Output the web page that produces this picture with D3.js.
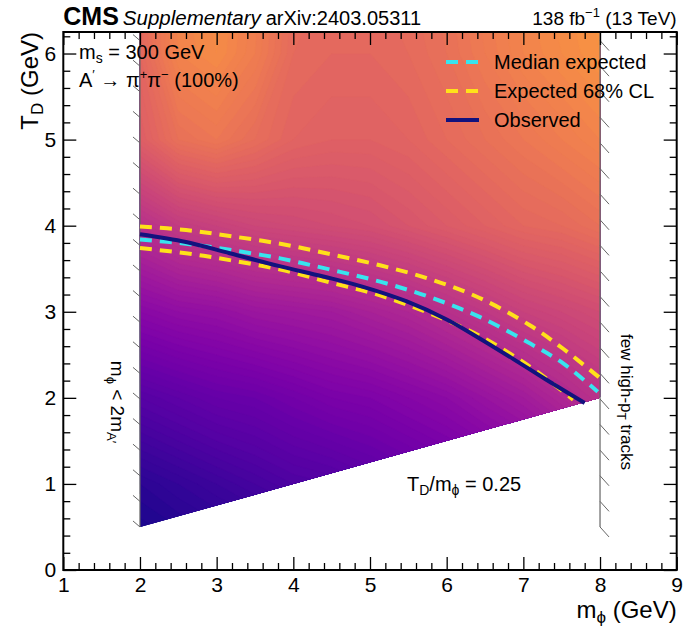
<!DOCTYPE html>
<html>
<head>
<meta charset="utf-8">
<script src="https://cdn.jsdelivr.net/npm/d3@7"></script>
<style>
  body { margin: 0; background: #fff; }
  text { font-family: "Liberation Sans", Arial, Helvetica, sans-serif; fill: #000; }
</style>
</head>
<body>
<svg id="chart" width="684" height="634"></svg>
<script>
// ---- data -------------------------------------------------------------
// Colour level (0..1 on the plasma scale) sampled on a regular m_phi x T_D grid
const massGrid = [2, 2.5, 3, 3.5, 4, 4.5, 5, 5.5, 6, 6.5, 7, 7.5, 8];
const tempGrid = [0, 1, 2, 3, 4, 5, 6, 7];
const levelRows = [
  [0.00, 0.01, 0.02, 0.03, 0.04, 0.05, 0.06, 0.07, 0.08, 0.09, 0.10, 0.11, 0.12],
  [0.05, 0.07, 0.09, 0.11, 0.13, 0.14, 0.16, 0.18, 0.20, 0.22, 0.24, 0.27, 0.30],
  [0.15, 0.17, 0.19, 0.20, 0.22, 0.24, 0.25, 0.27, 0.29, 0.32, 0.35, 0.39, 0.43],
  [0.28, 0.30, 0.31, 0.33, 0.34, 0.35, 0.37, 0.39, 0.42, 0.45, 0.48, 0.50, 0.52],
  [0.42, 0.46, 0.48, 0.50, 0.51, 0.52, 0.53, 0.55, 0.57, 0.59, 0.61, 0.62, 0.64],
  [0.58, 0.64, 0.66, 0.63, 0.60, 0.59, 0.59, 0.60, 0.62, 0.64, 0.66, 0.68, 0.70],
  [0.61, 0.70, 0.72, 0.68, 0.62, 0.61, 0.61, 0.62, 0.64, 0.67, 0.70, 0.72, 0.74],
  [0.62, 0.71, 0.73, 0.69, 0.63, 0.62, 0.62, 0.63, 0.65, 0.68, 0.71, 0.73, 0.75]
];

// Exclusion contours (m_phi in GeV, T_D in GeV)
const obsMass = [2.0, 2.6, 3.17, 3.82, 4.39, 4.91, 5.48, 6.0, 6.43, 6.87, 7.30, 7.80];
const obsTemp = [3.90, 3.81, 3.68, 3.53, 3.41, 3.29, 3.12, 2.91, 2.69, 2.45, 2.21, 1.94];
const expMass = [2.0, 2.6, 3.17, 3.83, 4.48, 5.13, 5.78, 6.43, 7.09, 7.52, 7.97];
const expTemp = [3.84, 3.79, 3.72, 3.62, 3.49, 3.35, 3.17, 2.94, 2.63, 2.40, 2.07];
const upMass  = [2.0, 2.6, 3.17, 3.83, 4.48, 5.13, 5.78, 6.43, 7.09, 7.52, 8.0];
const upTemp  = [3.99, 3.95, 3.88, 3.79, 3.67, 3.54, 3.38, 3.16, 2.84, 2.57, 2.23];
const dnMass  = [2.0, 2.6, 3.17, 3.83, 4.48, 5.13, 5.78, 6.43, 7.09, 7.65];
const dnTemp  = [3.74, 3.68, 3.60, 3.49, 3.34, 3.19, 2.98, 2.72, 2.36, 1.98];

// Kinematic boundaries of the scanned region
const regionMass = [2, 8, 8, 2];
const regionTemp = [0.5, 2.0, 6.25, 6.25];

const xTicks = [1, 2, 3, 4, 5, 6, 7, 8, 9];
const yTicks = [0, 1, 2, 3, 4, 5, 6];
const legendLabels = ["Median expected", "Expected 68% CL", "Observed"];

// ---- layout -----------------------------------------------------------
const svg = d3.select("#chart");
const x = d3.scaleLinear().domain([1, 9]).range([63.3, 676.7]);
const y = d3.scaleLinear().domain([0, 6.25]).range([570, 32]);

const colYellow = "#ffe11a", colCyan = "#38e4ee", colNavy = "#12127e";

// ---- colour map -------------------------------------------------------
svg.append("clipPath").attr("id", "region")
  .append("path")
  .attr("d", d3.line()(regionMass.map((m, i) => [x(m), y(regionTemp[i])])) + "Z");

const nx = massGrid.length, ny = tempGrid.length;
const values = levelRows.flat();
const dm = massGrid[1] - massGrid[0], dT = tempGrid[1] - tempGrid[0];
const proj = d3.geoTransform({
  point(px, py) {
    this.stream.point(x(massGrid[0] + (px - 0.5) * dm), y(tempGrid[0] + (py - 0.5) * dT));
  }
});
const gridPath = d3.geoPath(proj);
const thresholds = d3.range(0, 0.8, 0.01);
const bands = d3.contours().size([nx, ny]).thresholds(thresholds)(values);

svg.append("g").attr("clip-path", "url(#region)")
  .selectAll("path").data(bands).join("path")
  .attr("d", gridPath)
  .attr("fill", d => d3.interpolatePlasma(Math.min(d.value + 0.005, 1)))
  .attr("stroke", d => d3.interpolatePlasma(Math.min(d.value + 0.005, 1)))
  .attr("stroke-width", 0.4);

// ---- hatched boundaries ----------------------------------------------
const wallColor = "#666";
function wall(mass, side) {
  const x0 = x(mass), yb = y(regionTemp[0]), yt = y(regionTemp[3]);
  svg.append("line").attr("x1", x0).attr("x2", x0).attr("y1", yb).attr("y2", yt)
    .attr("stroke", wallColor).attr("stroke-width", 1.2);
  const marks = d3.range(yb, yt, -25.6);
  svg.append("g").selectAll("line").data(marks).join("line")
    .attr("x1", x0).attr("y1", d => d)
    .attr("x2", x0 + (side < 0 ? -7 : 9))
    .attr("y2", d => d + (side < 0 ? -6 : 10))
    .attr("stroke", wallColor).attr("stroke-width", 1);
}
wall(2, -1);
wall(8, 1);

// ---- limit curves -----------------------------------------------------
const curve = d3.line().x(d => x(d[0])).y(d => y(d[1])).curve(d3.curveCatmullRom.alpha(0.5));
const pairs = (ms, ts) => ms.map((m, i) => [m, ts[i]]);
function drawCurve(ms, ts, color, dash) {
  svg.append("path").attr("d", curve(pairs(ms, ts)))
    .attr("fill", "none").attr("stroke", color).attr("stroke-width", 4)
    .attr("stroke-dasharray", dash || null);
}
drawCurve(upMass, upTemp, colYellow, "12,8");
drawCurve(dnMass, dnTemp, colYellow, "12,8");
drawCurve(expMass, expTemp, colCyan, "12,8");
drawCurve(obsMass, obsTemp, colNavy, null);

// ---- axes -------------------------------------------------------------
const minorX = d3.range(1, 9.001, 0.2).filter(v => Math.abs(v - Math.round(v)) > 1e-6);
const minorY = d3.range(0, 6.25, 0.2).filter(v => Math.abs(v - Math.round(v)) > 1e-6);

function addAxis(gen, transform, major, minor, labels) {
  const g = svg.append("g").attr("transform", transform);
  g.call(gen.tickValues(minor).tickSize(-7).tickFormat(""));
  g.selectAll(".domain").remove();
  const g2 = svg.append("g").attr("transform", transform);
  g2.call(gen.tickValues(major).tickSize(-13).tickFormat(labels ? d3.format("d") : ""));
  g2.selectAll(".domain").remove();
  [g, g2].forEach(s => s.selectAll("line").attr("stroke", "#000").attr("stroke-width", 1.3));
  g2.selectAll("text").attr("font-size", 21)
    .attr("font-family", '"Liberation Sans", Arial, sans-serif').attr("fill", "#000");
  return g2;
}
const bx = addAxis(d3.axisBottom(x), `translate(0,${y(0)})`, xTicks, minorX, true);
bx.selectAll("text").attr("dy", "0.95em").attr("y", 2);
addAxis(d3.axisTop(x), `translate(0,${y(6.25)})`, xTicks, minorX, false);
const ly = addAxis(d3.axisLeft(y), `translate(${x(1)},0)`, yTicks, minorY, true);
ly.selectAll("text").attr("x", -7);
addAxis(d3.axisRight(y), `translate(${x(9)},0)`, yTicks, minorY, false);

svg.append("rect").attr("x", x(1)).attr("y", y(6.25))
  .attr("width", x(9) - x(1)).attr("height", y(0) - y(6.25))
  .attr("fill", "none").attr("stroke", "#000").attr("stroke-width", 2);

// axis titles
const xt = svg.append("text").attr("x", x(9)).attr("y", 618)
  .attr("text-anchor", "end").attr("font-size", 24);
xt.append("tspan").text("m");
xt.append("tspan").attr("dy", 5).attr("font-size", 17).text("\u03D5");
xt.append("tspan").attr("dy", -5).text(" (GeV)");

const yt = svg.append("text").attr("transform", `translate(38,${y(6.25)}) rotate(-90)`)
  .attr("text-anchor", "end").attr("font-size", 24);
yt.append("tspan").text("T");
yt.append("tspan").attr("dy", 5).attr("font-size", 17).text("D");
yt.append("tspan").attr("dy", -5).text(" (GeV)");

// ---- header -----------------------------------------------------------
const hd = svg.append("text").attr("x", x(1)).attr("y", 25);
hd.append("tspan").attr("font-weight", "bold").attr("font-size", 25).text("CMS");
hd.append("tspan").attr("font-style", "italic").attr("font-size", 20.5).attr("dx", 4).text("Supplementary");
hd.append("tspan").attr("font-size", 20).attr("dx", 5).text("arXiv:2403.05311");

const lum = svg.append("text").attr("x", x(9)).attr("y", 25)
  .attr("text-anchor", "end").attr("font-size", 19);
lum.append("tspan").text("138 fb");
lum.append("tspan").attr("dy", -8).attr("font-size", 13).text("\u22121");
lum.append("tspan").attr("dy", 8).text(" (13 TeV)");

// ---- model annotations ------------------------------------------------
const t1 = svg.append("text").attr("x", 79).attr("y", 59).attr("font-size", 20);
t1.append("tspan").text("m");
t1.append("tspan").attr("dy", 4).attr("font-size", 14).text("s");
t1.append("tspan").attr("dy", -4).text(" = 300 GeV");

const t2 = svg.append("text").attr("x", 79).attr("y", 87).attr("font-size", 20);
t2.append("tspan").text("A");
t2.append("tspan").attr("dy", -8).attr("font-size", 13).text("\u2032");
t2.append("tspan").attr("dy", 8).text(" \u2192 \u03C0");
t2.append("tspan").attr("dy", -8).attr("font-size", 13).text("+");
t2.append("tspan").attr("dy", 8).text("\u03C0");
t2.append("tspan").attr("dy", -8).attr("font-size", 13).text("\u2212");
t2.append("tspan").attr("dy", 8).text(" (100%)");

const ratio = svg.append("text").attr("x", 407).attr("y", 491).attr("font-size", 20);
ratio.append("tspan").text("T");
ratio.append("tspan").attr("dy", 4).attr("font-size", 14).text("D");
ratio.append("tspan").attr("dy", -4).text("/m");
ratio.append("tspan").attr("dy", 4).attr("font-size", 14).text("\u03D5");
ratio.append("tspan").attr("dy", -4).text(" = 0.25");

const lw = svg.append("text").attr("transform", "translate(111,402) rotate(90)")
  .attr("text-anchor", "middle").attr("font-size", 19);
lw.append("tspan").text("m");
lw.append("tspan").attr("dy", 4).attr("font-size", 13).text("\u03D5");
lw.append("tspan").attr("dy", -4).text(" < 2m");
lw.append("tspan").attr("dy", 4).attr("font-size", 13).text("A\u2032");

const rw = svg.append("text").attr("transform", "translate(621,402) rotate(90)")
  .attr("text-anchor", "middle").attr("font-size", 17);
rw.append("tspan").text("few high-p");
rw.append("tspan").attr("dy", 4).attr("font-size", 12).text("T");
rw.append("tspan").attr("dy", -4).text(" tracks");

// ---- legend -----------------------------------------------------------
const legColors = [colCyan, colYellow, colNavy];
const legDash = ["12,8", "12,8", null];
const leg = svg.append("g").selectAll("g").data(legendLabels).join("g")
  .attr("transform", (d, i) => `translate(446,${62 + i * 29})`);
leg.append("line").attr("x1", 0).attr("x2", 33).attr("y1", 0).attr("y2", 0)
  .attr("stroke", (d, i) => legColors[i]).attr("stroke-width", 4)
  .attr("stroke-dasharray", (d, i) => legDash[i]);
leg.append("text").attr("x", 48).attr("dy", "0.35em").attr("font-size", 20).text(d => d);
</script>
</body>
</html>
